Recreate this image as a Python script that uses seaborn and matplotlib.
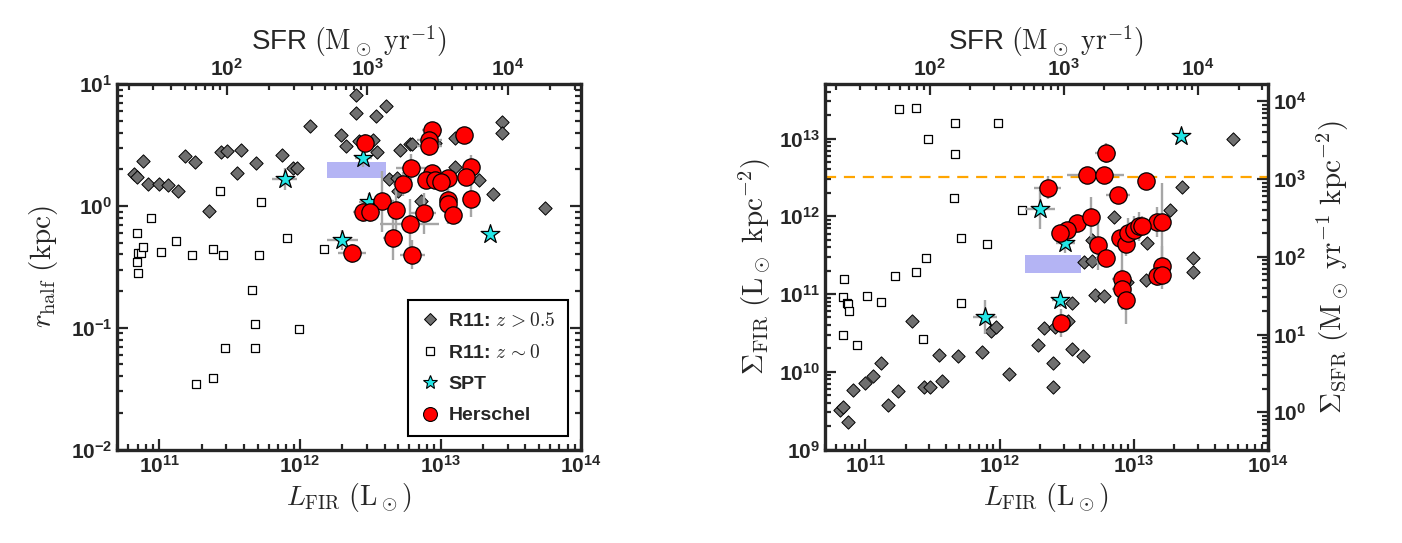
import numpy as np
import pandas as pd
import matplotlib
matplotlib.use("Agg")
import matplotlib.pyplot as plt
import seaborn as sns
from matplotlib.lines import Line2D
from matplotlib.ticker import NullFormatter, FixedLocator

sns.set_style("ticks")
plt.rcParams['font.family'] = ['Liberation Sans', 'DejaVu Sans']
plt.rcParams['font.weight'] = 'bold'
plt.rcParams['mathtext.fontset'] = 'cm'

# ---- data (log10 values) ----
# R11 z>0.5 (grey diamonds)
r11hi_logL_r = [10.82, 10.84, 10.88, 10.92, 11.00, 11.06, 11.13, 11.18, 11.25, 11.35, 11.44, 11.48, 11.55, 11.58, 11.69,
                11.87, 11.95, 11.98, 12.07, 12.29, 12.33, 12.40, 12.40, 12.42, 12.52, 12.54, 12.55, 12.61, 12.63, 12.69,
                12.70, 12.71, 12.78, 12.80, 12.86, 12.96, 13.10, 13.10, 13.27, 13.37, 13.44, 13.44, 13.74]
r11hi_logr = [0.26, 0.24, 0.37, 0.18, 0.18, 0.17, 0.12, 0.41, 0.36, -0.04, 0.44, 0.45, 0.27, 0.46, 0.35,
              0.42, 0.31, 0.31, 0.66, 0.58, 0.49, 0.91, 0.76, 0.53, 0.54, 0.74, 0.44, 0.82, 0.22, 0.23,
              0.12, 0.46, 0.51, 0.51, 0.04, 0.52, 0.56, 0.32, 0.21, 0.10, 0.69, 0.60, -0.02]
r11hi_logL_s = [10.81, 10.83, 10.87, 10.91, 11.00, 11.06, 11.12, 11.17, 11.24, 11.35, 11.44, 11.48, 11.55, 11.57, 11.69,
                11.87, 11.94, 11.97, 12.07, 12.29, 12.33, 12.40, 12.40, 12.41, 12.51, 12.54, 12.54, 12.62, 12.63, 12.69,
                12.69, 12.71, 12.78, 12.85, 12.95, 13.09, 13.10, 13.27, 13.36, 13.44, 13.44, 13.74]
r11hi_logsig = [9.51, 9.55, 9.36, 9.77, 9.85, 9.95, 10.11, 9.57, 9.75, 10.65, 9.80, 9.81, 10.22, 9.88, 10.21,
                10.25, 10.53, 10.58, 9.97, 10.35, 10.57, 10.11, 9.81, 10.58, 10.66, 10.89, 10.29, 10.20, 11.41, 11.43,
                11.69, 10.99, 10.98, 11.99, 11.15, 11.18, 11.66, 12.08, 12.38, 11.46, 11.28, 13.00]

# R11 z~0 (open squares)
r11lo_logL_r = [10.84, 10.85, 10.87, 10.88, 10.84, 10.85, 10.94, 11.01, 11.12, 11.23, 11.38, 11.43, 11.45, 11.71, 11.72,
                11.91, 12.17, 11.66, 11.68, 11.99, 11.47, 11.68, 11.38, 11.26]
r11lo_logr = [-0.22, -0.39, -0.39, -0.34, -0.46, -0.55, -0.10, -0.38, -0.29, -0.40, -0.35, 0.12, -0.40, -0.40, 0.03,
              -0.26, -0.35, -0.69, -0.97, -1.01, -1.17, -1.17, -1.41, -1.46]
r11lo_logL_s = [11.25, 11.38, 11.67, 11.99, 11.47, 11.67, 11.66, 12.17, 11.71, 11.91, 11.45, 11.38, 11.22, 10.84, 10.83,
                10.86, 10.87, 10.88, 11.01, 11.12, 10.83, 10.94, 11.43, 11.71]
r11lo_logsig = [13.38, 13.39, 13.20, 13.20, 12.99, 12.80, 12.23, 12.08, 11.72, 11.64, 11.46, 11.28, 11.23, 11.19, 10.96,
                10.89, 10.87, 10.78, 10.98, 10.90, 10.48, 10.34, 10.42, 10.89]

# SPT (stars)
spt_logL = [11.89, 12.30, 12.45, 12.49, 13.35]
spt_logL_err = [0.09, 0.11, 0.06, 0.07, 0.0]
spt_logr = [0.22, -0.28, 0.39, 0.03, -0.23]
spt_logr_err = [0.09, 0.08, 0.07, 0.08, 0.0]
spt_logsig = [10.71, 12.09, 10.92, 11.66, 13.03]
spt_logsig_err = [0.22, 0.25, 0.08, 0.13, 0.0]

# Herschel (red circles)
her_logL_r = [12.94, 13.17, 12.92, 12.92, 12.46, 12.79, 13.22, 13.18, 12.94, 13.05, 12.90, 12.96, 13.00, 12.73,
              12.58, 13.05, 13.05, 13.22, 12.68, 12.88, 13.09, 12.45, 12.50, 12.78, 12.66, 12.80, 12.37]
her_logL_r_err = [0.07, 0.06, 0.09, 0.09, 0.06, 0.11, 0.06, 0.06, 0.06, 0.06, 0.06, 0.06, 0.06, 0.07,
                  0.09, 0.04, 0.04, 0.04, 0.06, 0.09, 0.04, 0.07, 0.07, 0.21, 0.07, 0.09, 0.10]
her_logr = [0.62, 0.58, 0.54, 0.49, 0.52, 0.31, 0.32, 0.24, 0.27, 0.23, 0.21, 0.21, 0.20, 0.18,
            0.04, 0.05, 0.02, 0.06, -0.03, -0.06, -0.07, -0.05, -0.05, -0.15, -0.26, -0.40, -0.39]
her_logr_err = [0.03, 0.03, 0.08, 0.08, 0.07, 0.12, 0.10, 0.08, 0.04, 0.04, 0.04, 0.04, 0.04, 0.10,
                0.25, 0.17, 0.17, 0.15, 0.25, 0.17, 0.07, 0.08, 0.08, 0.21, 0.18, 0.12, 0.08]
her_logL_s = [12.79, 12.65, 12.78, 13.09, 12.36, 12.88, 12.58, 12.68, 12.50, 12.45, 12.73, 12.79, 12.90, 12.94,
              12.96, 13.00, 13.04, 13.17, 13.21, 13.21, 13.17, 13.21, 12.91, 12.91, 12.94, 12.46, 13.06]
her_logL_s_err = [0.08, 0.15, 0.15, 0.04, 0.10, 0.09, 0.06, 0.04, 0.06, 0.06, 0.04, 0.07, 0.06, 0.04,
                  0.04, 0.04, 0.04, 0.04, 0.04, 0.04, 0.04, 0.04, 0.07, 0.07, 0.04, 0.04, 0.04]
her_logsig = [12.81, 12.53, 12.53, 12.45, 12.37, 12.28, 11.92, 11.99, 11.82, 11.78, 11.63, 11.46, 11.72, 11.64,
              11.79, 11.82, 11.87, 11.93, 11.93, 11.36, 11.23, 11.25, 11.20, 11.06, 10.93, 10.63, 11.88]
her_logsig_err = [0.13, 0.06, 0.06, 0.06, 0.15, 0.06, 0.06, 0.26, 0.10, 0.10, 0.32, 0.10, 0.10, 0.15,
                  0.19, 0.19, 0.19, 0.19, 0.50, 0.26, 0.13, 0.19, 0.39, 0.26, 0.32, 0.18, 0.13]

# shaded region and reference line
box_logL = [12.19, 12.61]
box_logr = [0.23, 0.36]
box_logsig = [11.27, 11.50]
sig_limit = 10 ** 12.5
sfr_per_L = 10 ** -9.48   # SFR / L_FIR

x_lim = (5e10, 1e14)
sfr_ticks = [1e2, 1e3, 1e4]
sigsfr_ticks = [1e0, 1e1, 1e2, 1e3, 1e4]


def log_err(v, e):
    v = np.asarray(v)
    e = np.asarray(e)
    return [10 ** v - 10 ** (v - e), 10 ** (v + e) - 10 ** v]


def style_ticks(a):
    a.tick_params(which='both', direction='in', width=1.6, labelsize=15)
    a.tick_params(which='major', length=8)
    a.tick_params(which='minor', length=4)


def draw_panel(ax, hi, lo, spt, her, box):
    ax.set_xscale('log')
    ax.set_yscale('log')
    ax.fill_between(10 ** np.array(box[0]), 10 ** box[1][0], 10 ** box[1][1],
                    color='#b4b4f4', lw=0, zorder=1)
    sns.scatterplot(x=10 ** np.array(lo[0]), y=10 ** np.array(lo[1]), ax=ax, marker='s', s=38,
                    color='white', edgecolor='black', linewidth=0.9, zorder=2)
    sns.scatterplot(x=10 ** np.array(hi[0]), y=10 ** np.array(hi[1]), ax=ax, marker='D', s=46,
                    color='#6f6f6f', edgecolor='black', linewidth=0.7, zorder=2)
    for d in (spt, her):
        ax.errorbar(10 ** np.array(d[0]), 10 ** np.array(d[2]), xerr=log_err(d[0], d[1]),
                    yerr=log_err(d[2], d[3]), fmt='none', ecolor='#a6a6a6', elinewidth=1.7, zorder=2.5)
    sns.scatterplot(x=10 ** np.array(spt[0]), y=10 ** np.array(spt[2]), ax=ax, marker='*', s=200,
                    color='#22e6e6', edgecolor='black', linewidth=0.9, zorder=3)
    sns.scatterplot(x=10 ** np.array(her[0]), y=10 ** np.array(her[2]), ax=ax, marker='o', s=155,
                    color='#ff0000', edgecolor='black', linewidth=0.9, zorder=3)
    ax.set_xlim(*x_lim)
    ax.set_xlabel(r'$L_{\rm FIR}\ (\rm L_\odot)$', fontsize=20, labelpad=3)
    for sp in ax.spines.values():
        sp.set_linewidth(2.4)
    style_ticks(ax)
    ax.tick_params(which='both', top=False)
    sec = ax.secondary_xaxis('top', functions=(lambda x: x * sfr_per_L, lambda x: x / sfr_per_L))
    sec.set_xscale('log')
    sec.xaxis.set_major_locator(FixedLocator(sfr_ticks))
    sec.xaxis.set_minor_formatter(NullFormatter())
    style_ticks(sec)
    sec.set_xlabel(r'SFR $(\rm M_\odot\ yr^{-1})$', fontsize=20, fontweight='normal', labelpad=5)
    return sec


fig = plt.figure(figsize=(14.02, 5.43), dpi=100)
ax1 = fig.add_axes([0.0835, 0.172, 0.331, 0.673])
ax2 = fig.add_axes([0.5884, 0.172, 0.316, 0.673])

draw_panel(ax1,
           (r11hi_logL_r, r11hi_logr), (r11lo_logL_r, r11lo_logr),
           (spt_logL, spt_logL_err, spt_logr, spt_logr_err),
           (her_logL_r, her_logL_r_err, her_logr, her_logr_err),
           (box_logL, box_logr))
ax1.set_ylim(1e-2, 1e1)
ax1.tick_params(which='both', right=True)
ax1.set_ylabel(r'$r_{\rm half}\ (\rm kpc)$', fontsize=21, labelpad=8)

handles = [
    Line2D([], [], ls='none', marker='D', ms=6, mfc='#6f6f6f', mec='black', mew=0.7),
    Line2D([], [], ls='none', marker='s', ms=6, mfc='white', mec='black', mew=0.9),
    Line2D([], [], ls='none', marker='*', ms=10, mfc='#22e6e6', mec='black', mew=0.8),
    Line2D([], [], ls='none', marker='o', ms=10, mfc='#ff0000', mec='black', mew=0.8),
]
labels = [r'R11: $z\,{>}0.5$', r'R11: $z\,{\sim}0$', 'SPT', 'Herschel']
leg = ax1.legend(handles, labels, loc='lower right', fontsize=14, frameon=True, fancybox=False,
                 edgecolor='black', framealpha=1, borderaxespad=0.7, labelspacing=0.7,
                 handletextpad=0.4, handlelength=1.1, borderpad=0.6)
leg.get_frame().set_linewidth(1.5)

draw_panel(ax2,
           (r11hi_logL_s, r11hi_logsig), (r11lo_logL_s, r11lo_logsig),
           (spt_logL, spt_logL_err, spt_logsig, spt_logsig_err),
           (her_logL_s, her_logL_s_err, her_logsig, her_logsig_err),
           (box_logL, box_logsig))
ax2.set_ylim(1e9, 5e13)
ax2.axhline(sig_limit, color='orange', ls=(0, (5, 3.5)), lw=1.6, zorder=1.5)
ax2.set_ylabel(r'$\Sigma_{\rm FIR}\ (\rm L_\odot\ kpc^{-2})$', fontsize=21, labelpad=4)
ax2.tick_params(which='both', right=False)
secy = ax2.secondary_yaxis('right', functions=(lambda y: y * sfr_per_L, lambda y: y / sfr_per_L))
secy.set_yscale('log')
secy.yaxis.set_major_locator(FixedLocator(sigsfr_ticks))
secy.yaxis.set_minor_formatter(NullFormatter())
style_ticks(secy)
secy.set_ylabel(r'$\Sigma_{\rm SFR}\ (\rm M_\odot\ yr^{-1}\ kpc^{-2})$', fontsize=21, labelpad=6)

fig.savefig('out.png', dpi=100)
